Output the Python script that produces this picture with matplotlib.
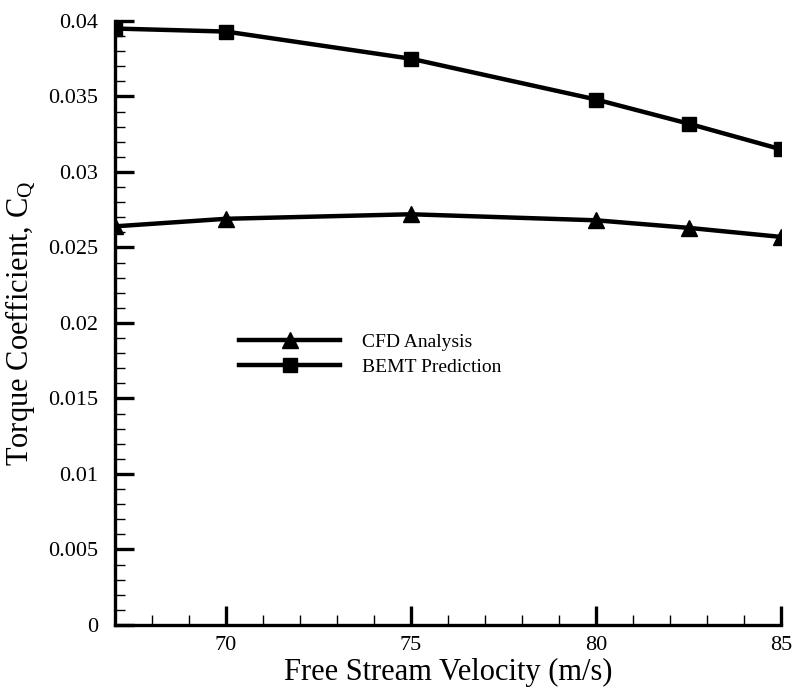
import matplotlib
matplotlib.use('Agg')
import matplotlib.pyplot as plt
from matplotlib import ticker

plt.rcParams['font.family'] = ['Liberation Serif', 'DejaVu Serif']
plt.rcParams['mathtext.fontset'] = 'custom'
plt.rcParams['mathtext.rm'] = 'Liberation Serif'
plt.rcParams['mathtext.it'] = 'Liberation Serif:italic'

# free stream velocity (m/s)
velocity = [67, 70, 75, 80, 82.5, 85]
# torque coefficient
cq_cfd = [0.0264, 0.0269, 0.0272, 0.0268, 0.0263, 0.0257]
cq_bemt = [0.0395, 0.0393, 0.0375, 0.0348, 0.0332, 0.0315]

fig = plt.figure(figsize=(7.95, 6.88), dpi=100)
ax = fig.add_axes([0.1447, 0.0916, 0.8378, 0.8779])

ax.plot(velocity, cq_cfd, color='black', lw=3.2, marker='^', markersize=11,
        label='CFD Analysis')
ax.plot(velocity, cq_bemt, color='black', lw=3.2, marker='s', markersize=10,
        label='BEMT Prediction')

ax.set_xlim(67, 85)
ax.set_ylim(0, 0.04)
ax.xaxis.set_major_locator(ticker.FixedLocator([70, 75, 80, 85]))
ax.xaxis.set_minor_locator(ticker.MultipleLocator(1))
ax.yaxis.set_major_locator(ticker.MultipleLocator(0.005))
ax.yaxis.set_minor_locator(ticker.MultipleLocator(0.001))
ax.yaxis.set_major_formatter(ticker.FuncFormatter(lambda v, p: ('%.3f' % v).rstrip('0').rstrip('.') if v else '0'))

for s in ['top', 'right']:
    ax.spines[s].set_visible(False)
for s in ['left', 'bottom']:
    ax.spines[s].set_linewidth(2.4)

ax.tick_params(which='major', direction='in', length=14, width=2.4, labelsize=16)
ax.tick_params(which='minor', direction='in', length=7, width=1)
ax.tick_params(axis='y', which='major', pad=12)
ax.tick_params(axis='x', which='major', pad=8)

ax.set_xlabel('Free Stream Velocity (m/s)', fontsize=22, labelpad=2)
ax.set_ylabel(r'Torque Coefficient, $\mathrm{C_Q}$', fontsize=22, labelpad=8)

ax.legend(loc='upper left', bbox_to_anchor=(0.16, 0.512), frameon=False,
          fontsize=14, handlelength=5.2, handletextpad=1.1, labelspacing=0.4)

fig.savefig('out.png', dpi=100)
